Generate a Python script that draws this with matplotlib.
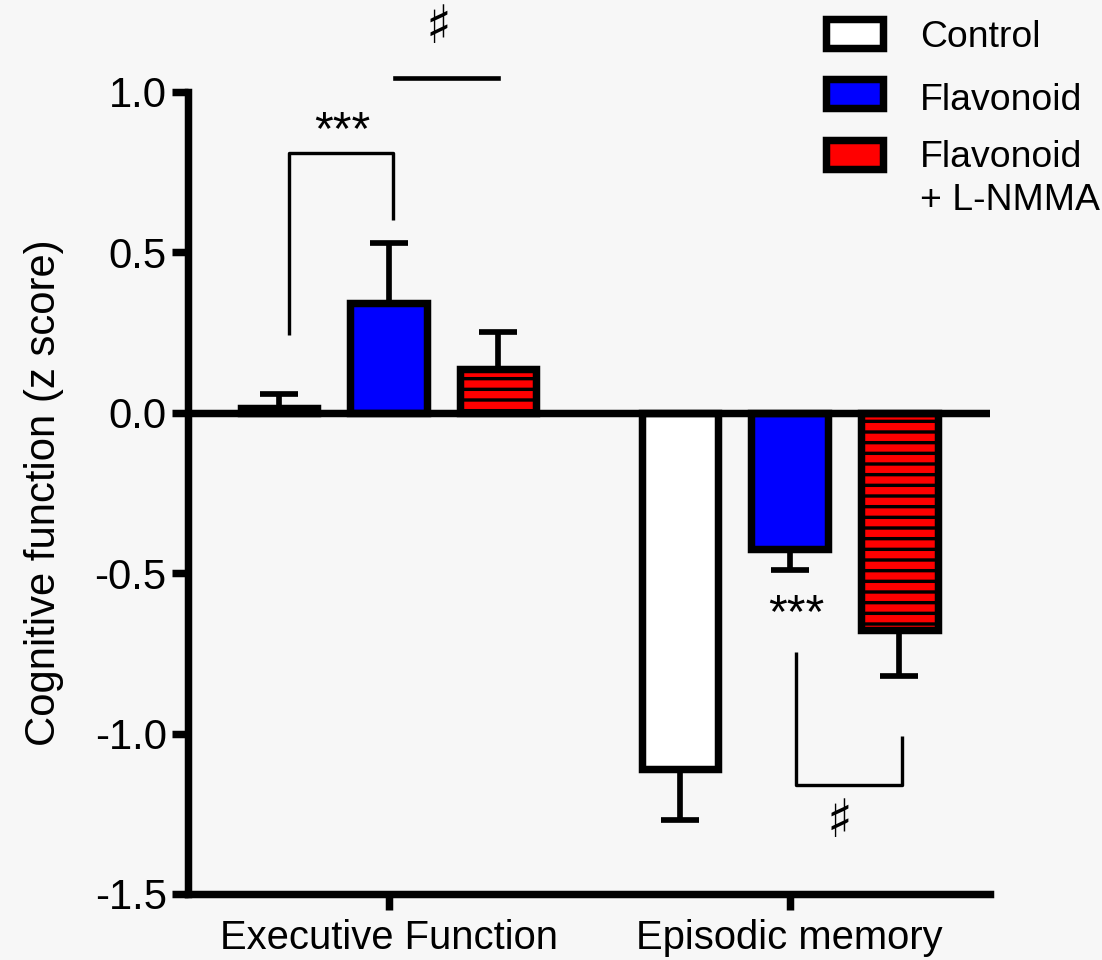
import numpy as np
import matplotlib.pyplot as plt
from matplotlib.patches import Rectangle

plt.rcParams['font.family'] = ['Liberation Sans', 'DejaVu Sans']
plt.rcParams['hatch.linewidth'] = 1.9
plt.rcParams['hatch.color'] = 'black'

# 群ごとの平均値と誤差 (z score)
groups = ["Executive Function", "Episodic memory"]
labels = ["Control", "Flavonoid", "Flavonoid\n+ L-NMMA"]
control = [0.015, -1.11]
control_err = [0.045, 0.158]
flavonoid = [0.343, -0.424]
flavonoid_err = [0.187, 0.066]
lnmma = [0.137, -0.676]
lnmma_err = [0.115, 0.146]

colors = ["white", "#0000ff", "#ff0000"]
hatches = [None, None, "--"]
bg = "#f7f7f7"

dpi = 128
fig = plt.figure(figsize=(1102 / dpi, 960 / dpi), dpi=dpi, facecolor=bg)
ax = fig.add_axes([0.1706, 0.0688, 0.7278, 0.8354])
ax.set_facecolor(bg)

x = np.arange(len(groups))
width = 0.19
step = 0.274
lw = 4.2

series = [(control, control_err), (flavonoid, flavonoid_err), (lnmma, lnmma_err)]
for i, (vals, errs) in enumerate(series):
    pos = x + (i - 1) * step
    ax.bar(pos, vals, width, color=colors[i], edgecolor="black", linewidth=lw,
           hatch=hatches[i], zorder=3)
    # 誤差棒は0から離れる方向だけ描く
    lower = [e if v < 0 else 0 for v, e in zip(vals, errs)]
    upper = [e if v >= 0 else 0 for v, e in zip(vals, errs)]
    eb = ax.errorbar(pos, vals, yerr=[lower, upper], fmt="none", ecolor="black",
                     elinewidth=3.2, capsize=10.5, capthick=3.2, zorder=2)
    for cap in eb[1]:
        cap.set_solid_capstyle("round")

ax.axhline(0, color="black", linewidth=lw, zorder=4)

ax.set_xlim(-0.5, 1.5)
ax.set_ylim(-1.5, 1.0)
ax.set_yticks([1.0, 0.5, 0.0, -0.5, -1.0, -1.5])
ax.set_yticklabels(["1.0", "0.5", "0.0", "-0.5", "-1.0", "-1.5"])
ax.set_xticks(x)
ax.set_xticklabels(groups)
ax.tick_params(axis="both", width=lw, length=9, color="black")
ax.tick_params(axis="y", labelsize=23.5, pad=3)
ax.tick_params(axis="x", labelsize=22.5, pad=5)
for side in ["top", "right"]:
    ax.spines[side].set_visible(False)
for side in ["left", "bottom"]:
    ax.spines[side].set_linewidth(lw)

ax.set_ylabel("Cognitive function (z score)", fontsize=23.5, labelpad=17)

# 有意差の表示
bk = dict(color="black", linewidth=1.9, solid_capstyle="butt", clip_on=False)
sharp = dict(ha="center", va="center", fontsize=30, family=["DejaVu Sans"])
ax.plot([-0.249, -0.249, 0.012, 0.012], [0.243, 0.81, 0.81, 0.601], **bk)
ax.text(-0.114, 0.877, "***", ha="center", va="center", fontsize=27)
ax.plot([0.015, 0.274], [1.044, 1.044], color="black", linewidth=2.6, clip_on=False)
ax.text(0.124, 1.2, "\u266f", **sharp)

ax.plot([1.017, 1.017, 1.281, 1.281], [-0.745, -1.159, -1.159, -1.009], **bk)
ax.text(1.017, -0.629, "***", ha="center", va="center", fontsize=27)
ax.text(1.124, -1.277, "\u266f", **sharp)

# 凡例 (手描き)
box_y = [0.9505, 0.8875, 0.824]
text_y = [0.951, 0.8854, 0.826]
for c, by, ty, lab in zip(colors, box_y, text_y, labels):
    fig.add_artist(Rectangle((0.7495, by), 0.0517, 0.0302, transform=fig.transFigure,
                             facecolor=c, edgecolor="black", linewidth=lw))
    lines = lab.split("\n")
    fig.text(0.8348, ty, lines[0], fontsize=21, va="baseline", ha="left")
    if len(lines) > 1:
        fig.text(0.8348, ty - 0.045, lines[1], fontsize=21, va="baseline", ha="left")

plt.savefig("out.png", dpi=dpi, facecolor=fig.get_facecolor())
